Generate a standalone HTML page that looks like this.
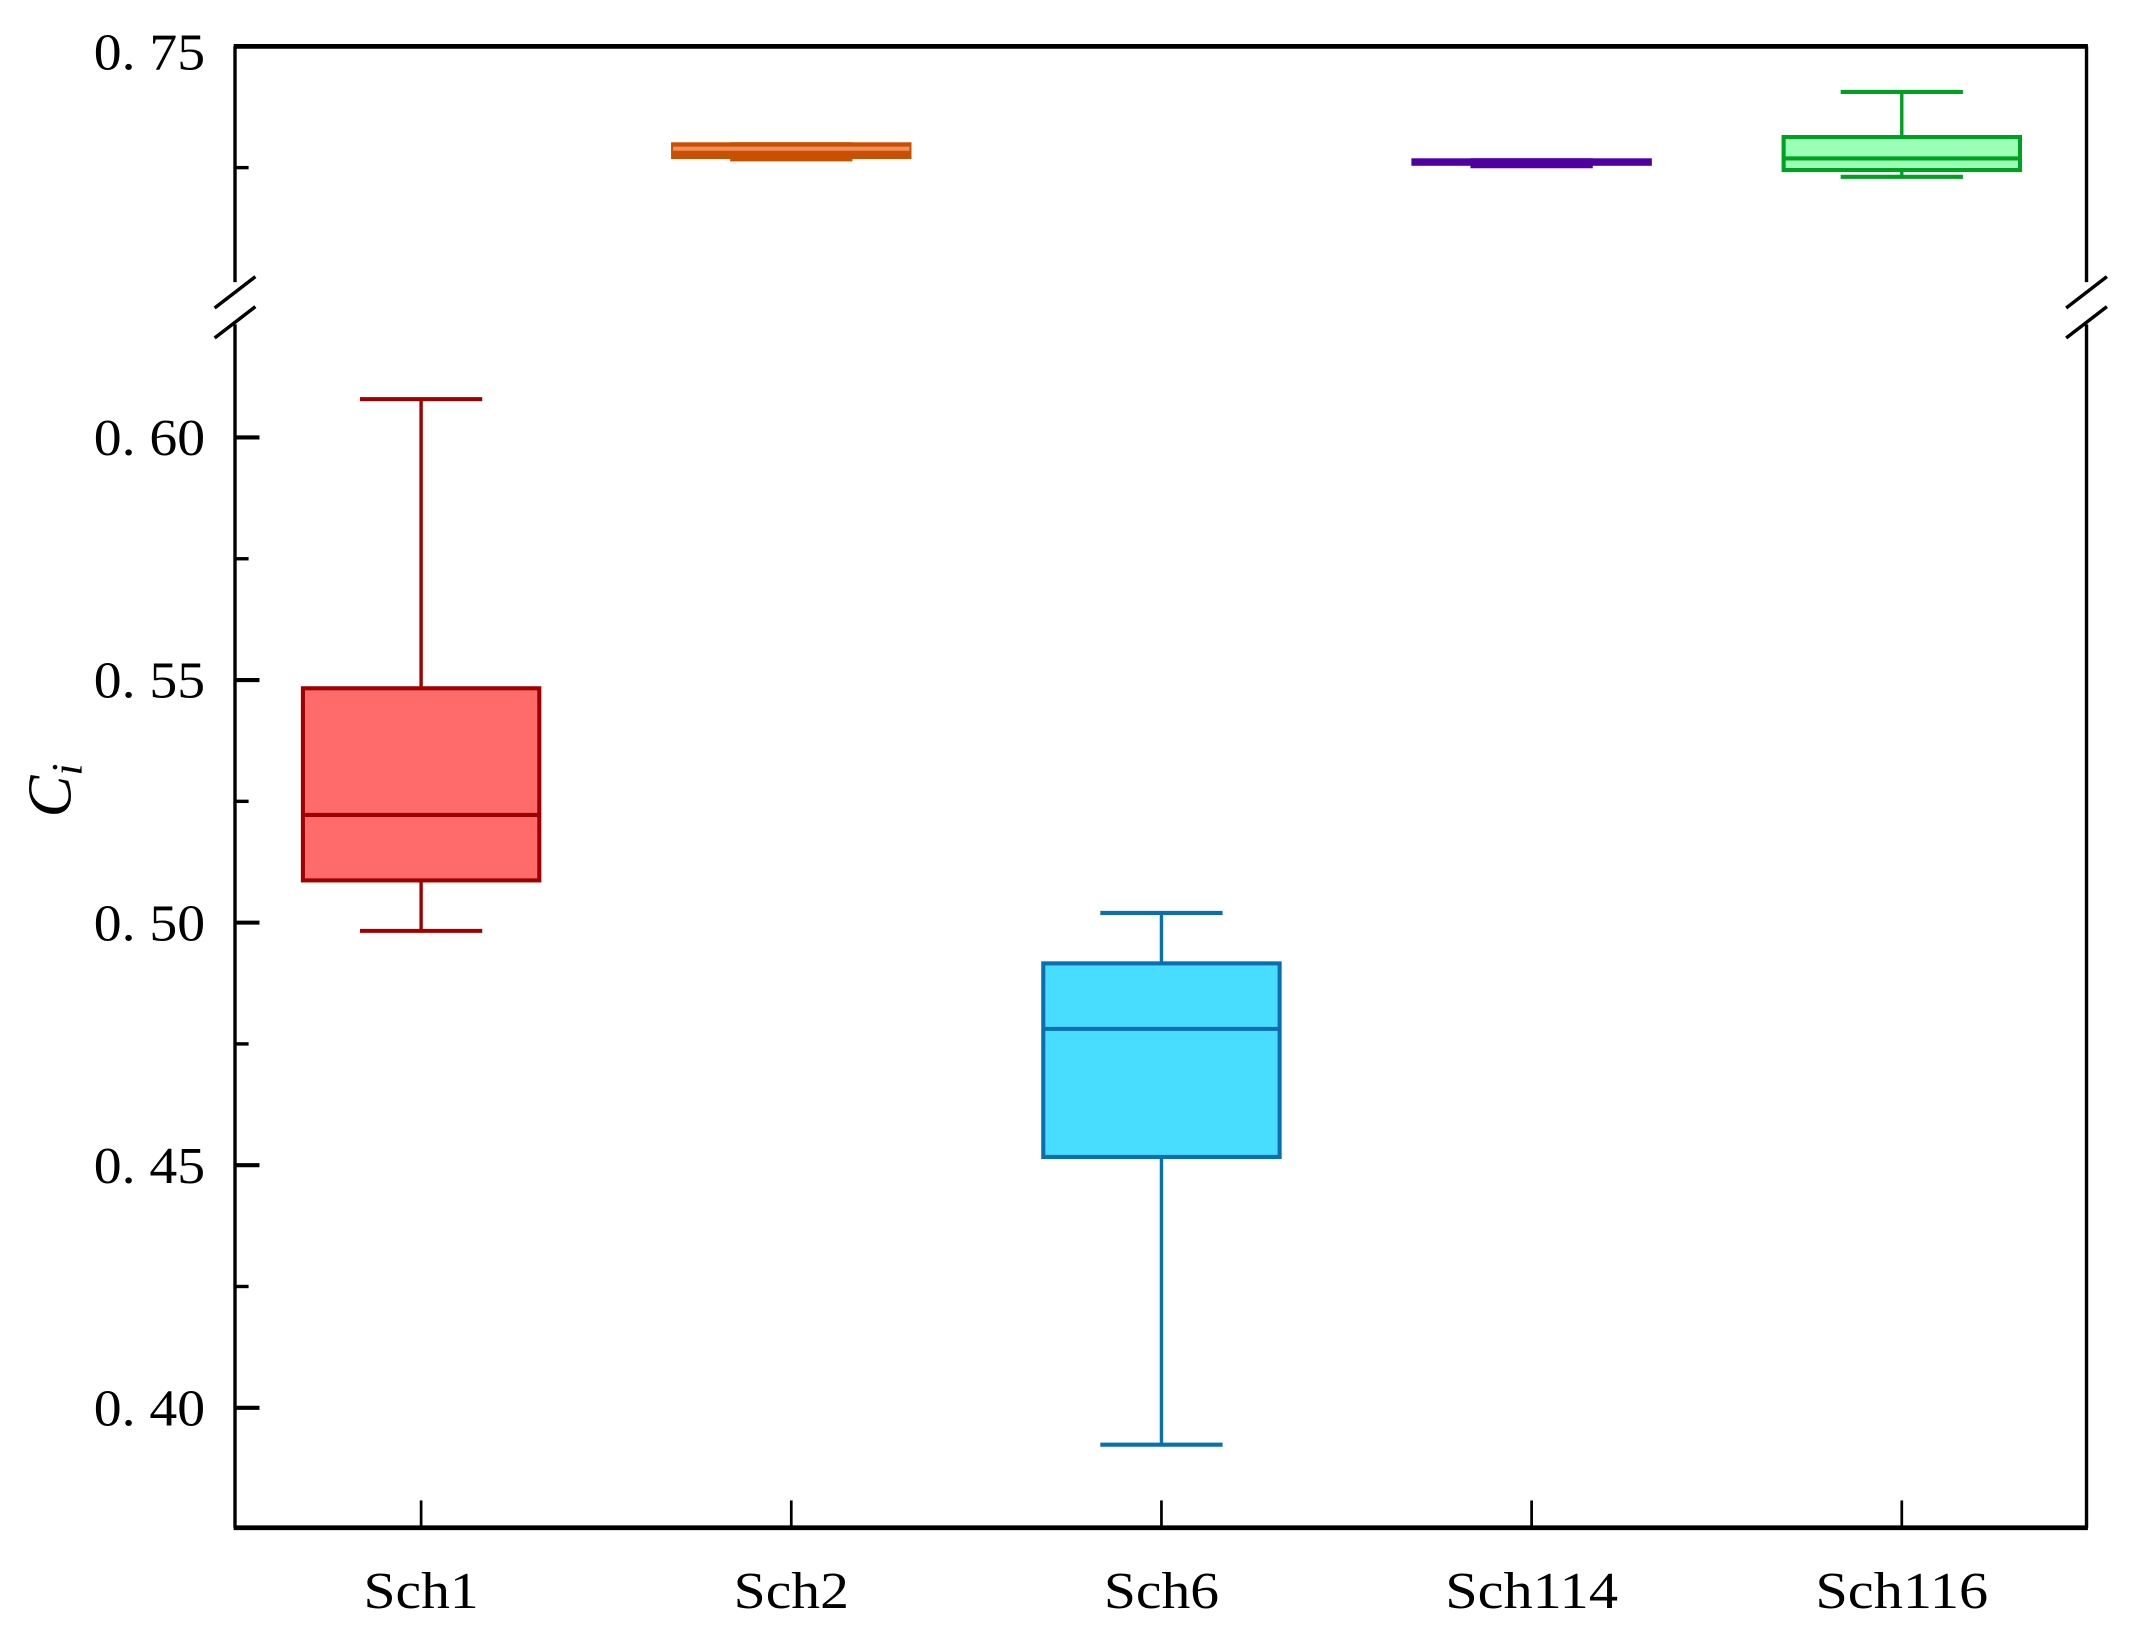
<!DOCTYPE html>
<html><head><meta charset="utf-8"><style>
html,body{margin:0;padding:0;background:#fff;}
svg{display:block;}
text{font-family:"Liberation Serif","Noto Serif CJK SC",serif;fill:#000;}
</style></head><body>
<svg id="chart" width="2130" height="1634" viewBox="0 0 1568 1199" preserveAspectRatio="none" xmlns="http://www.w3.org/2000/svg">
<g id="axes"></g>
<g id="boxes"></g>
<text x="0" y="0" transform="translate(52,580) rotate(-90)" text-anchor="middle" font-size="46" font-style="italic">C<tspan font-size="32" dy="8">i</tspan></text>
</svg>
<script>
const categories=["Sch1","Sch2","Sch6","Sch114","Sch116"];
const mins=[0.4983,0.7267,0.3924,0.7253,0.7231];
const q1s=[0.5087,0.7272,0.4517,0.7258,0.7245];
const medians=[0.5222,0.7289,0.4781,0.7262,0.7269];
const q3s=[0.5483,0.7298,0.4916,0.7265,0.7313];
const maxs=[0.6079,0.7298,0.5020,0.7265,0.7406];
const fills=["#ff6b6b","#c85000","#48dcff","#5000a0","#9cffb8"];
const strokes=["#a00000","#c85000","#0a6fb0","#5000a0","#00a020"];
const lowTicks=["0.40","0.45","0.50","0.55","0.60"];
const highTicks=["0.75"];
const NS="http://www.w3.org/2000/svg";
const L=173,R=1536,T=34,B=1121,PX=3560;
function yLow(v){return 321+(0.6-v)*PX;}
function yHigh(v){return 34+(0.75-v)*PX;}
function y(v){return v>0.66?yHigh(v):yLow(v);}
function x(i){return 310+i*272.5;}
function el(tag,attrs,parent){const e=document.createElementNS(NS,tag);for(const k in attrs)e.setAttribute(k,attrs[k]);parent.appendChild(e);return e;}
const ax=document.getElementById('axes'),bx=document.getElementById('boxes');
const line=(x1,y1,x2,y2,w,c,p)=>el('line',{x1,y1,x2,y2,'stroke-width':w,stroke:c},p);
let e;
e=line(L-1,T,R+1,T,3.5,'#000',ax);
e=line(L-1,B,R+1,B,3.5,'#000',ax);
e=line(L,T,L,207,2.5,'#000',ax);
e=line(L,238,L,B,2.5,'#000',ax);
e=line(R,T,R,207,2.5,'#000',ax);
e=line(R,238,R,B,2.5,'#000',ax);
[[L,'left'],[R,'right']].forEach(([bxp,n])=>{
 e=line(bxp-15,226,bxp+15,203,2.5,'#000',ax);
 e=line(bxp-15,248,bxp+15,225,2.5,'#000',ax);
});
function ylabel(t,yy){
 e=el('text',{x:L-22,y:yy+13,'text-anchor':'end','font-size':38,textLength:82,lengthAdjust:'spacingAndGlyphs'},ax);e.textContent=t.replace('.','. ');
 
}
lowTicks.forEach(t=>{const v=parseFloat(t),yy=yLow(v);
 e=line(L,yy,L+18,yy,3,'#000',ax);
 ylabel(t,yy);
 const m=yLow(v+0.025);
 if(m>238){e=line(L,m,L+10,m,2.5,'#000',ax);}
});
highTicks.forEach(t=>{const v=parseFloat(t),yy=yHigh(v);
 ylabel(t,yy+4);
 const m=yHigh(v-0.025);
 e=line(L,m,L+10,m,2.5,'#000',ax);
});
categories.forEach((c,i)=>{const cx=x(i);
 e=line(cx,B,cx,B-20,2,'#000',ax);
 e=el('text',{x:cx,y:B+59,'text-anchor':'middle','font-size':38,textLength:c.length*21.2,lengthAdjust:'spacingAndGlyphs'},ax);e.textContent=c;
 
 const g=el('g',{},bx);
 
 
 const s=strokes[i];
 line(cx,y(maxs[i]),cx,y(q3s[i]),2.5,s,g);
 line(cx,y(q1s[i]),cx,y(mins[i]),2.5,s,g);
 line(cx-45,y(maxs[i]),cx+45,y(maxs[i]),3,s,g);
 line(cx-45,y(mins[i]),cx+45,y(mins[i]),3,s,g);
 const top=y(q3s[i]),bot=y(q1s[i]);
 el('rect',{x:cx-87,y:top,width:174,height:Math.max(bot-top,0.5),fill:fills[i],stroke:s,'stroke-width':3},g);
 line(cx-87,y(medians[i]),cx+87,y(medians[i]),3,i===1?'#f09060':s,g);
});
</script>
</body></html>
